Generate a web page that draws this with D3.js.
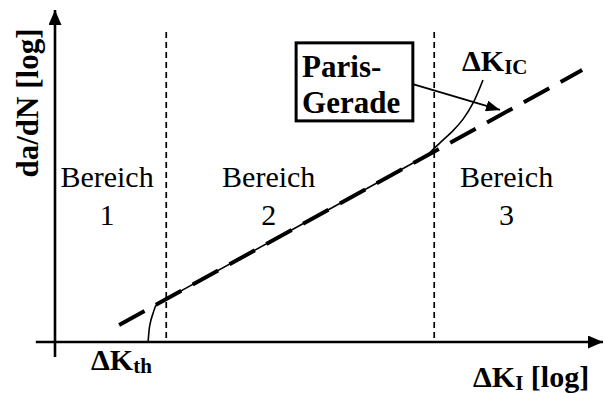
<!DOCTYPE html>
<html>
<head>
<meta charset="utf-8">
<script src="https://cdn.jsdelivr.net/npm/d3@7"></script>
<style>
  html, body { margin: 0; padding: 0; background: #fff; }
</style>
</head>
<body>
<svg id="chart" width="604" height="394"></svg>
<script>
// Schematic crack-growth curve, both axes in log units (0..10)
const regionBounds = [2.03, 6.92];           // log ΔK at the region borders
const parisLine = [[1.17, 0.51], [9.62, 8.19]]; // straight Paris law segment
const growthCurve = [                          // measured da/dN curve
  [1.70, 0.00], [1.73, 0.51], [1.79, 0.87], [1.86, 1.14],
  [2.20, 1.45], [4.40, 3.45], [6.60, 5.45], [6.80, 5.64],
  [6.93, 5.85], [7.08, 6.08], [7.26, 6.36], [7.45, 6.72],
  [7.63, 7.20], [7.81, 7.89]
];
const regionLabels = [
  { name: "Bereich", num: "1", x: 0.95 },
  { name: "Bereich", num: "2", x: 3.90 },
  { name: "Bereich", num: "3", x: 8.24 }
];
const parisBox = { x0: 4.40, x1: 6.53, y0: 6.66, y1: 9.01, lines: ["Paris-", "Gerade"] };
const parisArrow = { from: [6.53, 7.77], to: [8.12, 6.99] };

const svg = d3.select("#chart")
  .attr("font-family", "'Liberation Serif', 'DejaVu Serif', serif");
const x = d3.scaleLinear().domain([0, 10]).range([55, 603]);
const y = d3.scaleLinear().domain([0, 10]).range([342, 10]);

const defs = svg.append("defs");
defs.append("marker")
  .attr("id", "axisHead").attr("viewBox", "0 0 15 13")
  .attr("refX", 15).attr("refY", 6.5)
  .attr("markerUnits", "userSpaceOnUse")
  .attr("markerWidth", 15).attr("markerHeight", 13)
  .attr("orient", "auto")
  .append("path").attr("d", "M0,0 L15,6.5 L0,13 Z").attr("fill", "#000");
defs.append("marker")
  .attr("id", "noteHead").attr("viewBox", "0 0 14 11")
  .attr("refX", 14).attr("refY", 5.5)
  .attr("markerUnits", "userSpaceOnUse")
  .attr("markerWidth", 14).attr("markerHeight", 11)
  .attr("orient", "auto")
  .append("path").attr("d", "M0,0 L14,5.5 L0,11 Z").attr("fill", "#000");

// Region borders
svg.selectAll("line.border").data(regionBounds).join("line")
  .attr("class", "border")
  .attr("x1", d => x(d)).attr("x2", d => x(d))
  .attr("y1", y(9.34)).attr("y2", y(0))
  .attr("stroke", "#000").attr("stroke-width", 1.7)
  .attr("stroke-dasharray", "6,4");

// Axes with arrow heads
svg.append("line")
  .attr("x1", x(-0.35)).attr("x2", x(10))
  .attr("y1", y(0)).attr("y2", y(0))
  .attr("stroke", "#000").attr("stroke-width", 2.6)
  .attr("marker-end", "url(#axisHead)");
svg.append("line")
  .attr("x1", x(0)).attr("x2", x(0))
  .attr("y1", y(-0.45)).attr("y2", y(10))
  .attr("stroke", "#000").attr("stroke-width", 2.6)
  .attr("marker-end", "url(#axisHead)");

// Measured curve
const curveLine = d3.line().x(d => x(d[0])).y(d => y(d[1])).curve(d3.curveCatmullRom.alpha(0.5));
svg.append("path").datum(growthCurve)
  .attr("d", curveLine)
  .attr("fill", "none").attr("stroke", "#000").attr("stroke-width", 1.6);

// Paris line (dashed)
const straight = d3.line().x(d => x(d[0])).y(d => y(d[1]));
svg.append("path").datum(parisLine)
  .attr("d", straight)
  .attr("fill", "none").attr("stroke", "#000").attr("stroke-width", 4)
  .attr("stroke-dasharray", "29,13");

// Region labels
const rl = svg.selectAll("g.region").data(regionLabels).join("g").attr("class", "region");
rl.append("text").attr("x", d => x(d.x)).attr("y", 187)
  .attr("text-anchor", "middle").attr("font-size", 30).text(d => d.name);
rl.append("text").attr("x", d => x(d.x)).attr("y", 225)
  .attr("text-anchor", "middle").attr("font-size", 30).text(d => d.num);

// Paris-Gerade box and arrow
svg.append("rect")
  .attr("x", x(parisBox.x0)).attr("y", y(parisBox.y1))
  .attr("width", x(parisBox.x1) - x(parisBox.x0))
  .attr("height", y(parisBox.y0) - y(parisBox.y1))
  .attr("fill", "#fff").attr("stroke", "#000").attr("stroke-width", 3);
svg.selectAll("text.box").data(parisBox.lines).join("text")
  .attr("class", "box")
  .attr("x", x(parisBox.x0) + 6).attr("y", (d, i) => 77 + i * 36)
  .attr("font-size", 31).attr("font-weight", "bold").text(d => d);
svg.append("line")
  .attr("x1", x(parisArrow.from[0])).attr("y1", y(parisArrow.from[1]))
  .attr("x2", x(parisArrow.to[0])).attr("y2", y(parisArrow.to[1]))
  .attr("stroke", "#000").attr("stroke-width", 1.8)
  .attr("marker-end", "url(#noteHead)");

// Axis titles and threshold labels
svg.append("text")
  .attr("transform", "translate(38,103) rotate(-90)")
  .attr("text-anchor", "middle").attr("font-size", 31).attr("font-weight", "bold")
  .text("da/dN [log]");

function deltaLabel(px, py, sub, tail) {
  const t = svg.append("text").attr("x", px).attr("y", py)
    .attr("font-weight", "bold").attr("font-size", 30);
  t.append("tspan").text("ΔK");
  t.append("tspan").attr("font-size", 21).attr("dy", 3).text(sub);
  if (tail) t.append("tspan").attr("dy", -3).text(tail);
}
deltaLabel(91, 370, "th");
deltaLabel(462, 71, "IC");
deltaLabel(473, 387, "I", "\u00a0[log]");
</script>
</body>
</html>
